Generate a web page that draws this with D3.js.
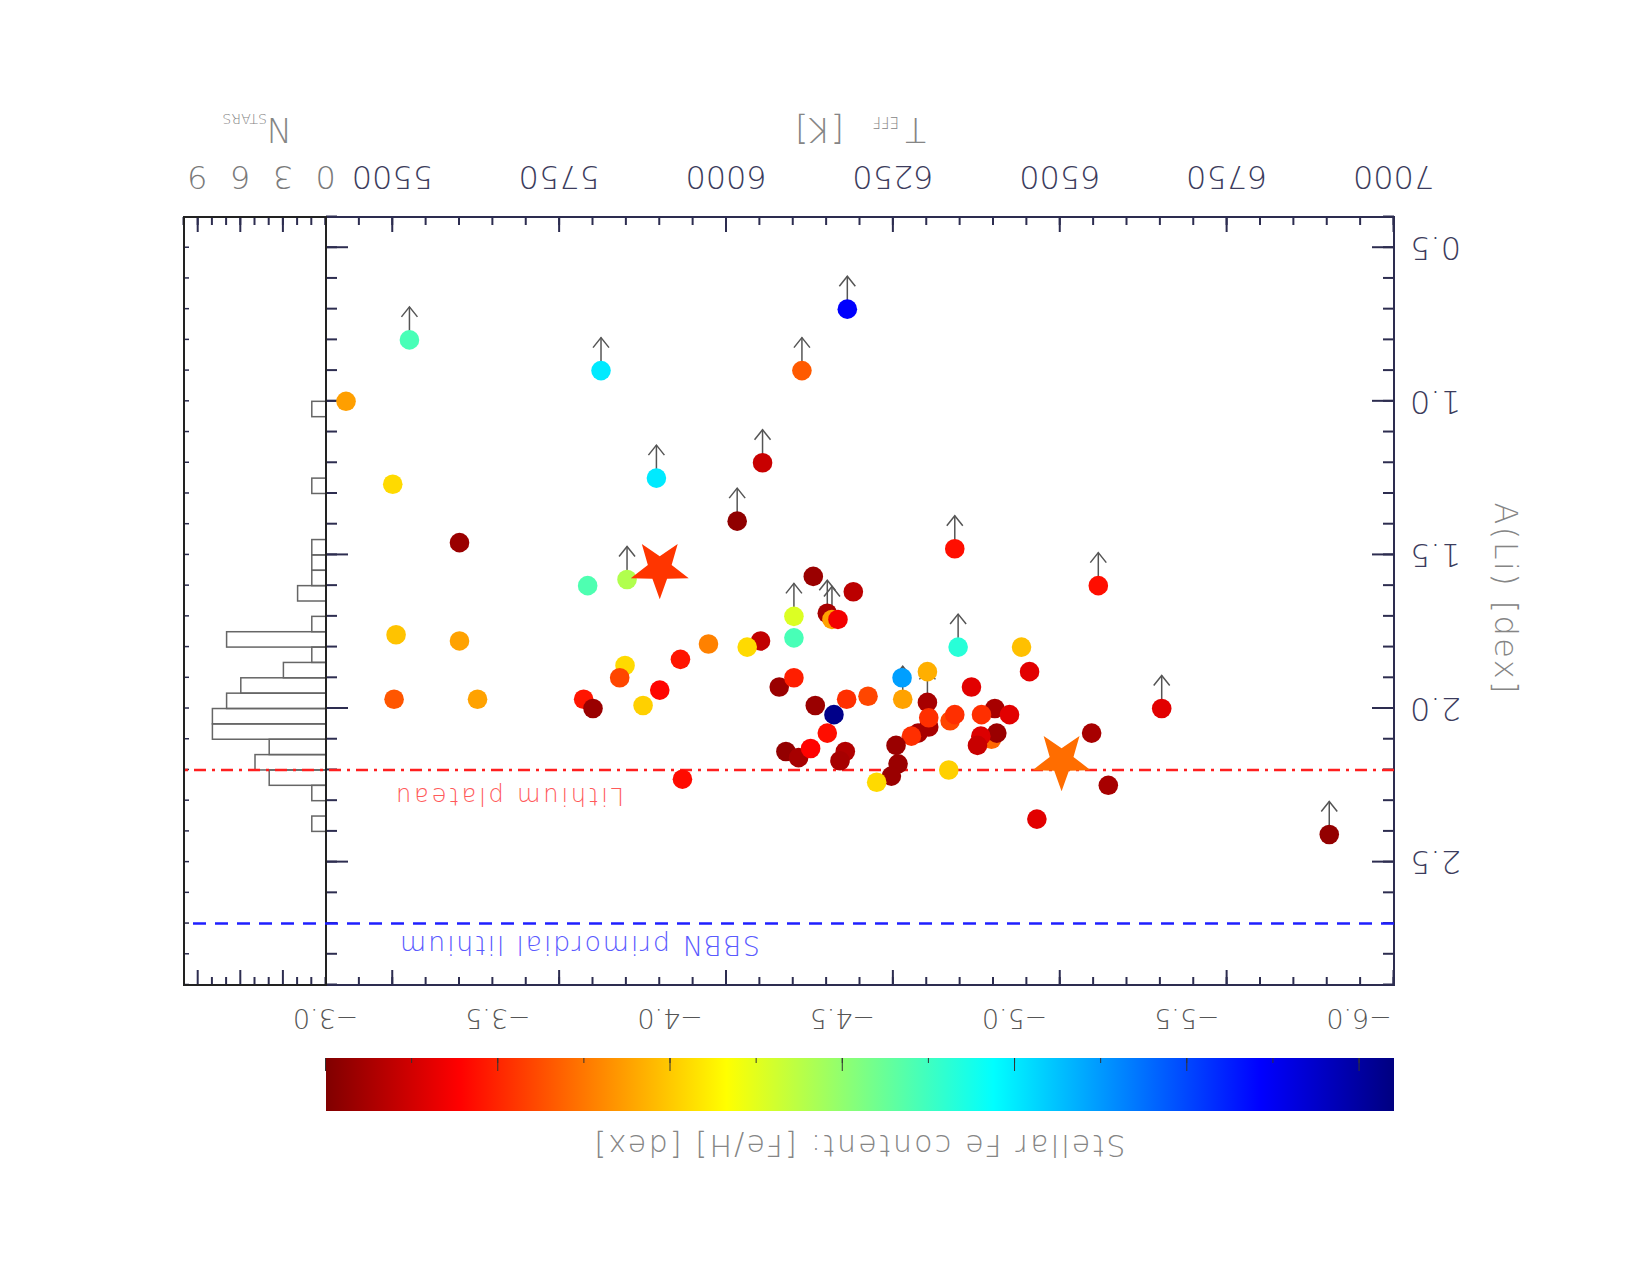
<!DOCTYPE html>
<html>
<head>
<meta charset="utf-8">
<script src="https://cdn.jsdelivr.net/npm/d3@7"></script>
<style>
  body { margin: 0; background: #fff; }
  text { font-family: "DejaVu Sans", sans-serif; font-weight: 200; }
</style>
</head>
<body>
<div class="liplot"></div>
<script>
// stars: effective temperature, lithium abundance, iron content, upper limit flag
var teff = [5430, 5525, 5812, 5895, 5500, 5600, 5792, 5851, 5505, 5600,
            5502, 5627, 5786, 5800, 5875, 5848, 5840, 5900, 5931, 5934,
            6181, 6113, 6054, 6016, 6342, 6130, 6190, 6101, 6101, 6151,
            6158, 6167, 5973, 6051, 6031, 6079, 6101, 6133, 6161, 6180,
            6212, 6151, 6089, 6108, 6126, 6178, 6170, 6263, 6264, 6301,
            6301, 6303, 6287, 6277, 6303, 6254, 6257, 6247, 6225, 6333,
            6335, 6342, 6347, 6367, 6557, 6442, 6454, 6402, 6424, 6382,
            6397, 6405, 6381, 6376, 6547, 6572, 6465, 6652, 6903];
var ali  = [1.00, 0.80, 0.90, 1.25, 1.27, 1.46, 1.60, 1.58, 1.76, 1.78,
            1.97, 1.97, 1.97, 2.00, 1.99, 1.86, 1.90, 1.94, 1.84, 2.23,
            0.70, 0.90, 1.20, 1.39, 1.48, 1.57, 1.62, 1.70, 1.77, 1.69,
            1.71, 1.71, 1.79, 1.78, 1.80, 1.93, 1.90, 1.99, 2.02, 1.97,
            1.96, 2.08, 2.14, 2.16, 2.13, 2.14, 2.17, 1.90, 1.97, 1.88,
            1.98, 2.06, 2.08, 2.09, 2.03, 2.12, 2.18, 2.22, 2.24, 2.20,
            2.04, 2.02, 1.80, 1.93, 1.60, 1.80, 1.88, 2.00, 2.02, 2.02,
            2.10, 2.08, 2.09, 2.12, 2.08, 2.25, 2.36, 2.00, 2.41];
var feh  = [-3.87, -4.72, -5.00, -5.00, -4.05, -3.08, -4.70, -4.40, -3.98, -3.88,
            -3.65, -3.88, -3.45, -3.08, -4.02, -4.05, -3.60, -3.40, -3.45, -3.42,
            -5.72, -3.66, -3.22, -3.05, -3.43, -3.08, -3.18, -4.27, -4.72, -3.12,
            -3.88, -3.35, -3.78, -3.20, -4.05, -3.08, -3.48, -3.08, -6.07, -3.53,
            -3.60, -3.43, -3.06, -3.12, -3.39, -3.15, -3.12, -5.23, -3.88, -3.92,
            -3.12, -3.12, -3.12, -3.53, -3.53, -3.08, -3.08, -3.08, -4.05, -4.02,
            -3.60, -3.53, -4.82, -3.30, -3.43, -3.97, -3.30, -3.12, -3.30, -3.53,
            -3.70, -3.08, -3.28, -3.22, -3.12, -3.12, -3.30, -3.30, -3.06];
var upper = [0, 1, 1, 1, 0, 0, 0, 1, 0, 0,
             0, 0, 0, 0, 0, 0, 0, 0, 0, 0,
             1, 1, 1, 1, 1, 0, 0, 1, 0, 1,
             1, 0, 0, 0, 0, 0, 0, 0, 0, 0,
             0, 0, 0, 0, 0, 0, 0, 0, 1, 0,
             1, 0, 0, 0, 0, 0, 0, 0, 0, 0,
             0, 0, 1, 0, 1, 0, 0, 0, 0, 0,
             0, 0, 0, 0, 0, 0, 0, 1, 1];

// the two highlighted stars
var starTeff = [5900, 6502];
var starAli  = [1.545, 2.17];
var starFeh  = [-3.55, -3.72];

// histogram of A(Li), bins of 0.05 dex
var binStart = [1.00, 1.25, 1.45, 1.50, 1.55, 1.60, 1.70, 1.75, 1.80, 1.85,
                1.90, 1.95, 2.00, 2.05, 2.10, 2.15, 2.20, 2.25, 2.35];
var binCount = [1, 1, 1, 1, 1, 2, 1, 7, 1, 3,
                6, 7, 8, 8, 4, 5, 4, 1, 1];
var binWidth = 0.05;

// reference levels
var plateauLi = 2.2;
var sbbnLi = 2.7;

// tick labels
var teffTicks = [5500, 5750, 6000, 6250, 6500, 6750, 7000];
var aliTicks  = [0.5, 1.0, 1.5, 2.0, 2.5];
var nTicks    = [0, 3, 6, 9];
var fehTicks  = [-6.0, -5.5, -5.0, -4.5, -4.0, -3.5, -3.0];

var W = 1650, H = 1275;
var frame = {left: 256, right: 1324, top: 290, bottom: 1058, hist: 1466};
var axisCol = "#2d2d50";

var svg = d3.select(".liplot")
  .append("svg")
  .attr("width", W)
  .attr("height", H);

// the whole figure comes out upside down
var fig = svg.append("g")
  .attr("transform", "rotate(180," + W / 2 + "," + H / 2 + ")");

// scales
var x = d3.scaleLinear().domain([5400, 7000]).range([frame.right, frame.left]);
var y = d3.scaleLinear().domain([0.4, 2.9]).range([frame.bottom, frame.top]);
var n = d3.scaleLinear().domain([0, 10]).range([frame.right, frame.hist]);
var c = d3.scaleLinear().domain([-6.1, -3.0]).range([frame.left, frame.right]);

function jet(v) {
  var cl = function(t) { return Math.max(0, Math.min(1, t)); };
  return d3.rgb(255 * cl(1.5 - Math.abs(4 * v - 3)),
                255 * cl(1.5 - Math.abs(4 * v - 2)),
                255 * cl(1.5 - Math.abs(4 * v - 1))).toString();
}
function fehColor(f) { return jet((f - c.domain()[0]) / (c.domain()[1] - c.domain()[0])); }

function styleAxis(sel, size, color) {
  sel.select(".domain").remove();
  sel.selectAll(".tick line").attr("stroke", axisCol).attr("stroke-width", 2);
  sel.selectAll(".tick text")
    .attr("font-size", size)
    .attr("fill", color)
    .style("font-family", "'DejaVu Sans', sans-serif")
    .style("font-weight", 200);
}

// ---- axes of main panel
var tb = fig.append("g").attr("transform", "translate(0," + frame.bottom + ")");
tb.call(d3.axisBottom(x).tickValues(d3.range(5400, 7001, 50)).tickSize(-8).tickFormat(""));
styleAxis(tb, 0, "none");
var tbl = fig.append("g").attr("transform", "translate(0," + frame.bottom + ")");
tbl.call(d3.axisBottom(x).tickValues(teffTicks).tickSize(-15).tickPadding(28).tickFormat(d3.format("d")));
styleAxis(tbl, 32, "#3c3c5c");

var tt = fig.append("g").attr("transform", "translate(0," + frame.top + ")");
tt.call(d3.axisTop(x).tickValues(d3.range(5400, 7001, 50)).tickSize(-8).tickFormat(""));
styleAxis(tt, 0, "none");
var tt2 = fig.append("g").attr("transform", "translate(0," + frame.top + ")");
tt2.call(d3.axisTop(x).tickValues(teffTicks).tickSize(-15).tickFormat(""));
styleAxis(tt2, 0, "none");

var yl = fig.append("g").attr("transform", "translate(" + frame.left + ",0)");
yl.call(d3.axisLeft(y).tickValues(d3.range(0.4, 2.95, 0.1)).tickSize(-11).tickFormat(""));
styleAxis(yl, 0, "none");
var yll = fig.append("g").attr("transform", "translate(" + frame.left + ",0)");
yll.call(d3.axisLeft(y).tickValues(aliTicks).tickSize(-22).tickPadding(16).tickFormat(d3.format(".1f")));
styleAxis(yll, 32, "#3c3c5c");

var yr = fig.append("g").attr("transform", "translate(" + frame.right + ",0)");
yr.call(d3.axisRight(y).tickValues(d3.range(0.4, 2.95, 0.1)).tickSize(-11).tickFormat(""));
styleAxis(yr, 0, "none");
var yr2 = fig.append("g").attr("transform", "translate(" + frame.right + ",0)");
yr2.call(d3.axisRight(y).tickValues(aliTicks).tickSize(-22).tickFormat(""));
styleAxis(yr2, 0, "none");

// ---- axes of histogram panel
var nb = fig.append("g").attr("transform", "translate(0," + frame.bottom + ")");
nb.call(d3.axisBottom(n).tickValues(d3.range(0, 11, 1)).tickSize(-8).tickFormat(""));
styleAxis(nb, 0, "none");
var nbl = fig.append("g").attr("transform", "translate(0," + frame.bottom + ")");
nbl.call(d3.axisBottom(n).tickValues(nTicks).tickSize(-15).tickPadding(28).tickFormat(d3.format("d")));
styleAxis(nbl, 32, "#7a7a7a");
nbl.selectAll(".tick line").filter(function(d) { return d === 0; }).remove();

var nt = fig.append("g").attr("transform", "translate(0," + frame.top + ")");
nt.call(d3.axisTop(n).tickValues(d3.range(1, 10, 1)).tickSize(-8).tickFormat(""));
styleAxis(nt, 0, "none");
nt.selectAll(".tick line").filter(function(d) { return d % 3 === 0; }).attr("y2", 15);

var hr = fig.append("g").attr("transform", "translate(" + frame.hist + ",0)");
hr.call(d3.axisRight(y).tickValues(d3.range(0.5, 2.95, 0.1)).tickSize(-5).tickFormat(""));
styleAxis(hr, 0, "none");
hr.selectAll(".tick line").attr("stroke-width", 1.5);

// ---- histogram
fig.selectAll("rect.hbar")
  .data(binStart)
  .enter()
  .append("rect")
  .attr("class", "hbar")
  .attr("x", n(0))
  .attr("y", function(d) { return y(d + binWidth); })
  .attr("width", function(d, i) { return n(binCount[i]) - n(0); })
  .attr("height", function(d) { return y(d) - y(d + binWidth); })
  .attr("fill", "none")
  .attr("stroke", "#666")
  .attr("stroke-width", 1.5);

// ---- frames
fig.append("rect")
  .attr("x", frame.left).attr("y", frame.top)
  .attr("width", frame.right - frame.left).attr("height", frame.bottom - frame.top)
  .attr("fill", "none").attr("stroke", axisCol).attr("stroke-width", 2);
fig.append("rect")
  .attr("x", frame.right).attr("y", frame.top)
  .attr("width", frame.hist - frame.right).attr("height", frame.bottom - frame.top)
  .attr("fill", "none").attr("stroke", "#222").attr("stroke-width", 2);

// ---- reference lines
fig.append("line")
  .attr("x1", frame.left).attr("x2", frame.hist)
  .attr("y1", y(plateauLi)).attr("y2", y(plateauLi))
  .attr("stroke", "#ff1f1f").attr("stroke-width", 2.5)
  .attr("stroke-dasharray", "12,6,3,6");
fig.append("line")
  .attr("x1", frame.left).attr("x2", frame.hist)
  .attr("y1", y(sbbnLi)).attr("y2", y(sbbnLi))
  .attr("stroke", "#1f1fff").attr("stroke-width", 2.5)
  .attr("stroke-dasharray", "13,9");

// labels sit on the lower side of the lines once turned over
fig.append("text")
  .attr("x", 1026).attr("y", y(plateauLi) - 18)
  .attr("font-size", 24)
  .attr("textLength", 228)
  .attr("lengthAdjust", "spacing")
  .attr("fill", "#ff5a5a")
  .text("Lithium plateau");
fig.append("text")
  .attr("x", 890).attr("y", y(sbbnLi) - 12)
  .attr("font-size", 27)
  .attr("textLength", 360)
  .attr("lengthAdjust", "spacing")
  .attr("fill", "#5a5aff")
  .text("SBBN primordial lithium");

// ---- upper limit arrows
var lim = d3.range(teff.length).filter(function(i) { return upper[i]; });
var arrows = fig.selectAll("g.arrow")
  .data(lim)
  .enter()
  .append("g")
  .attr("class", "arrow")
  .attr("transform", function(i) { return "translate(" + x(teff[i]) + "," + y(ali[i]) + ")"; });
arrows.append("line")
  .attr("x1", 0).attr("y1", 0).attr("x2", 0).attr("y2", 33)
  .attr("stroke", "#555").attr("stroke-width", 1.5);
arrows.append("polyline")
  .attr("points", "-8,23 0,33 8,23")
  .attr("fill", "none").attr("stroke", "#555").attr("stroke-width", 1.5);

// ---- points
fig.selectAll("circle.star")
  .data(teff)
  .enter()
  .append("circle")
  .attr("class", "star")
  .attr("cx", function(d) { return x(d); })
  .attr("cy", function(d, i) { return y(ali[i]); })
  .attr("r", 9.8)
  .attr("fill", function(d, i) { return fehColor(feh[i]); });

// highlighted stars
function starPath(R, r) {
  var pts = d3.range(10).map(function(k) {
    var a = -Math.PI / 2 + k * Math.PI / 5, rad = k % 2 ? r : R;
    return [rad * Math.cos(a), rad * Math.sin(a)];
  });
  return "M" + pts.join("L") + "Z";
}
fig.selectAll("path.big")
  .data(starTeff)
  .enter()
  .append("path")
  .attr("class", "big")
  .attr("d", starPath(30.5, 12.5))
  .attr("transform", function(d, i) { return "translate(" + x(d) + "," + y(starAli[i]) + ")"; })
  .attr("fill", function(d, i) { return fehColor(starFeh[i]); });

// ---- colour bar
var grad = svg.append("defs").append("linearGradient").attr("id", "jetbar");
grad.selectAll("stop")
  .data(d3.range(0, 1.0001, 0.0625))
  .enter()
  .append("stop")
  .attr("offset", function(d) { return d; })
  .attr("stop-color", function(d) { return jet(d); });
fig.append("rect")
  .attr("x", c(-6.1)).attr("y", 164)
  .attr("width", c(-3.0) - c(-6.1)).attr("height", 53)
  .attr("fill", "url(#jetbar)");
var cb = fig.append("g").attr("transform", "translate(0,217)");
cb.call(d3.axisBottom(c).tickValues(d3.range(-6.0, -2.99, 0.25)).tickSize(-5).tickFormat(""));
styleAxis(cb, 0, "none");
cb.selectAll(".tick line").attr("stroke", "#333").attr("stroke-width", 1);
var cbl = fig.append("g").attr("transform", "translate(0,217)");
cbl.call(d3.axisBottom(c).tickValues(fehTicks).tickSize(-13).tickPadding(30).tickFormat(d3.format(".1f")));
styleAxis(cbl, 27, "#555");
cbl.selectAll(".tick line").attr("stroke", "#333").attr("stroke-width", 1);

// ---- titles
var titleCol = "#858585";
fig.append("text").attr("x", 724).attr("y", 1157).attr("font-size", 34).attr("fill", titleCol).text("T");
fig.append("text").attr("x", 751).attr("y", 1158).attr("font-size", 15).attr("fill", titleCol).text("EFF");
fig.append("text").attr("x", 806).attr("y", 1157).attr("font-size", 34).attr("fill", titleCol).text("[K]");

fig.append("text").attr("x", 1359).attr("y", 1157).attr("font-size", 34).attr("fill", titleCol).text("N");
fig.append("text").attr("x", 1383).attr("y", 1161).attr("font-size", 14).attr("fill", titleCol).text("STARS");

fig.append("text")
  .attr("transform", "translate(155," + (H - 598) + ") rotate(-90)")
  .attr("text-anchor", "middle")
  .attr("font-size", 32)
  .attr("textLength", 191)
  .attr("lengthAdjust", "spacing")
  .attr("fill", titleCol)
  .text("A(Li) [dex]");

fig.append("text")
  .attr("x", (c(-6.1) + c(-3.0)) / 2).attr("y", 140)
  .attr("text-anchor", "middle")
  .attr("font-size", 30)
  .attr("textLength", 531)
  .attr("lengthAdjust", "spacing")
  .attr("fill", titleCol)
  .text("Stellar Fe content: [Fe/H] [dex]");
</script>
</body>
</html>
